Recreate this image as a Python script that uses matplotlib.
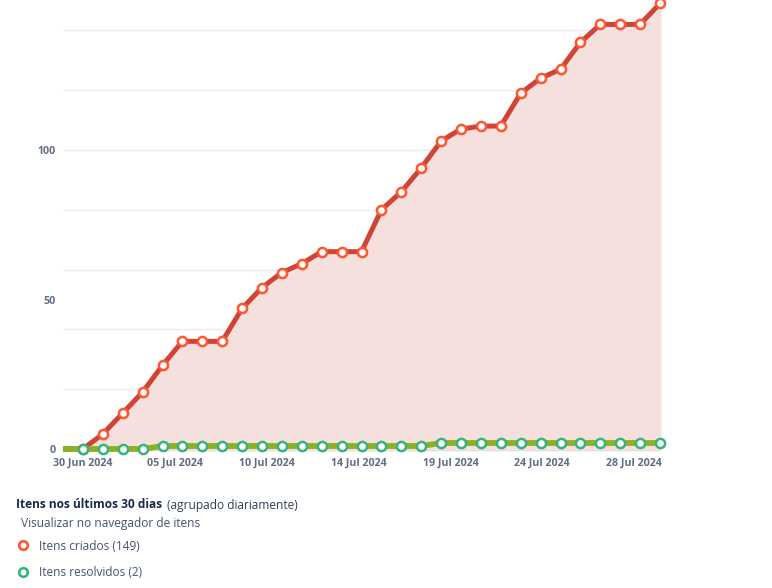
#Created vs resolved items chart, last 30 days

import numpy as np
import matplotlib
matplotlib.use("Agg")
import matplotlib.pyplot as plt
from matplotlib.lines import Line2D

W, H = 772, 588

days = np.arange(-1, 30)
created = [0, 0, 5, 12, 19, 28, 36, 36, 36, 47, 54, 59, 62, 66, 66, 66, 80, 86, 94,
           103, 107, 108, 108, 119, 124, 127, 136, 142, 142, 142, 149]
resolved = [0, 0, 0, 0, 0, 1, 1, 1, 1, 1, 1, 1, 1, 1, 1, 1, 1, 1, 1,
            2, 2, 2, 2, 2, 2, 2, 2, 2, 2, 2, 2]
date_labels = ["30 Jun 2024", "05 Jul 2024", "10 Jul 2024", "14 Jul 2024",
               "19 Jul 2024", "24 Jul 2024", "28 Jul 2024"]
y_labels = [0, 50, 100]
grid_values = [20, 40, 60, 80, 100, 120, 140]

plt.rcParams['font.family'] = ['Open Sans', 'DejaVu Sans']

fig = plt.figure(figsize=(W / 100, H / 100), dpi=100)
ax = fig.add_axes([63 / W, (H - 449) / H, 597 / W, 449 / H])
ax.set_xlim(-1, 29)
ax.set_ylim(0, 449 / 2.99)
for s in ax.spines.values():
    s.set_visible(False)

ax.hlines(grid_values, -1, 29, color="#e9e9ed", lw=0.9, zorder=1)
ax.hlines(-0.4, -1, 29, color="#d5d7dc", lw=1, zorder=1, clip_on=False)

ax.fill_between(days, created, 0, color="#f6e0de", lw=1.5, zorder=2, clip_on=False)
ax.plot(days, created, color="#d04437", lw=3.6, zorder=3, clip_on=False,
        solid_joinstyle="round", solid_capstyle="butt")
ax.plot(days, resolved, color="#8eb021", lw=4.2, zorder=4, clip_on=False,
        solid_joinstyle="round", solid_capstyle="butt")
ax.plot(days[1:], created[1:], ls="none", marker="o", ms=6.6, mfc="white", mec="#ff5630",
        mew=1.8, zorder=5, clip_on=False)
ax.plot(days[1:], resolved[1:], ls="none", marker="o", ms=6.6, mfc="white", mec="#36b37e",
        mew=1.8, zorder=6, clip_on=False)

ax.set_xticks(np.linspace(0, 27.7, len(date_labels)))
ax.set_xticklabels(date_labels, fontsize=7.7, fontweight="bold", color="#5e6c84")
ax.set_yticks(y_labels)
ax.set_yticklabels(y_labels, fontsize=7.7, fontweight="bold", color="#5e6c84")
ax.tick_params(length=0)
ax.tick_params(axis="x", pad=6)
ax.tick_params(axis="y", pad=5)

# legend block under the chart
def px(x, y):
    return x / W, 1 - y / H

fig.text(*px(16, 505), "Itens nos últimos 30 dias", fontsize=8.6, fontweight="bold",
         color="#172b4d", va="center")
fig.text(*px(167, 505), "(agrupado diariamente)", fontsize=8.6, color="#333f52", va="center")
fig.text(*px(21, 523), "Visualizar no navegador de itens", fontsize=8.6, color="#44546f", va="center")
fig.text(*px(39, 546), "Itens criados (149)", fontsize=8.6, color="#44546f", va="center")
fig.text(*px(39, 572), "Itens resolvidos (2)", fontsize=8.6, color="#44546f", va="center")
for y, c in [(545, "#ff5630"), (572, "#36b37e")]:
    fx, fy = px(23, y)
    fig.add_artist(Line2D([fx], [fy], marker="o", ms=6.2, mfc="white", mec=c, mew=1.9,
                          transform=fig.transFigure))

fig.savefig("out.png", dpi=100)
